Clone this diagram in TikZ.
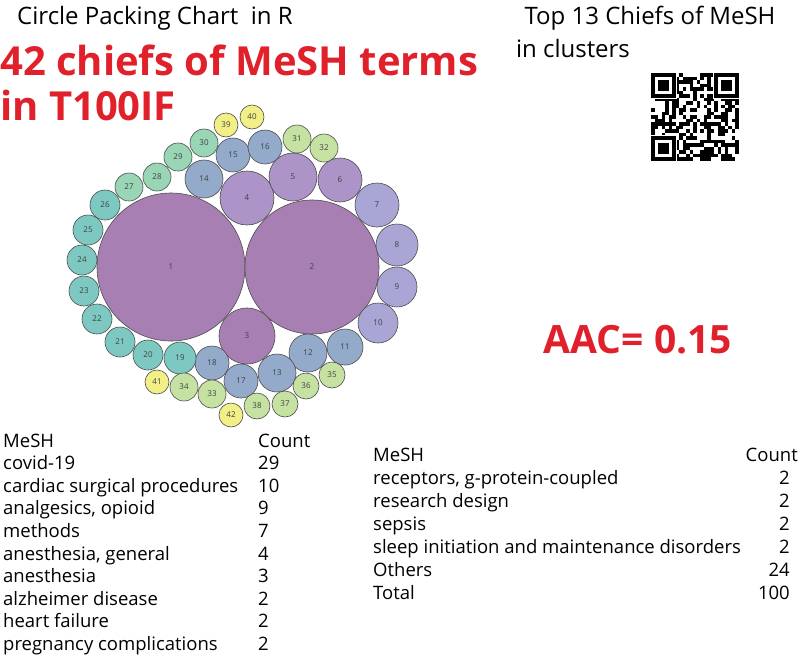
\documentclass[tikz,border=0pt]{standalone}
\usepackage{fontspec}
\setmainfont{Open Sans}
\definecolor{cA}{HTML}{A77FB3}
\definecolor{cB}{HTML}{AC93C8}
\definecolor{cC}{HTML}{A9A6D6}
\definecolor{cD}{HTML}{93AACB}
\definecolor{cE}{HTML}{7DC9C2}
\definecolor{cF}{HTML}{98D6B6}
\definecolor{cG}{HTML}{C6E2A2}
\definecolor{cH}{HTML}{F2EF86}
\definecolor{tred}{HTML}{E0202A}
\begin{document}
\begin{tikzpicture}[x=1pt,y=-1pt,
  bub/.style={circle,draw=black!70,line width=0.6pt,inner sep=0pt,font=\fontsize{8}{8}\selectfont,text=black!75},
  tabt/.style={anchor=base west,inner sep=0pt,font=\fontsize{18.5}{20}\selectfont},
  tabr/.style={anchor=base east,inner sep=0pt,font=\fontsize{18.5}{20}\selectfont},
  ttl/.style={inner sep=0pt,font=\fontsize{24}{28}\selectfont},
  red/.style={inner sep=0pt,text=tred,font=\fontsize{40}{44}\selectfont\bfseries}]
\useasboundingbox (0,0) rectangle (800,659);
\fill[white] (0,0) rectangle (800,659);
\foreach \n/\x/\y/\r/\c in {
1/171/267/74/cA,2/312/267/67/cA,3/247/336/28/cA,4/247/198/27/cB,5/293/177/24/cB,
6/340/180/22/cB,7/377/205/22/cC,8/397/245/21/cC,9/397/287/20/cC,10/378/323/20/cC,
11/345/347/18/cD,12/308/353/19/cD,13/277/373/19/cD,14/204/179/19/cD,15/233/155/17/cD,
16/265/147/17/cD,17/241/381/17/cD,18/212/363/17/cD,19/180/358/16/cE,20/148/355/15/cE,
21/120/342/15/cE,22/97/319/15/cE,23/84/291/15/cE,24/82/260/15/cE,25/88/230/15/cE,
26/105/205/15/cE,27/129/187/14/cF,28/157/177/14/cF,29/178/157/14/cF,30/204/143/14/cF,
31/297/139/14/cG,32/324/148/14/cG,33/212/394/14/cG,34/184/387/14/cG,35/332/375/13/cG,
36/306/386/13/cG,37/285/404/13/cG,38/257/406/13/cG,39/226/125/12/cH,40/252/117/12/cH,
41/157/382/12/cH,42/231/415/12/cH}
  \node[bub,fill=\c,minimum size=2*\r pt] (b\n) at (\x,\y) {\n};
\node[ttl] (t1) at (155,18) {Circle Packing Chart\ \ in R};
\node[red,anchor=west] (t2) at (0,60) {42 chiefs of MeSH terms};
\node[red,anchor=west] (t3) at (0,105) {in T100IF};
\node[ttl] (t4) at (650,18) {Top 13 Chiefs of MeSH};
\node[ttl] (t5) at (573,48) {in clusters};
\node[red,font=\fontsize{39}{44}\selectfont\bfseries] (aac) at (638,340) {AAC= 0.15};
\begin{scope}[shift={(651,73)}]
\pgfmathsetseed{7}
\foreach \i in {0,...,24} \foreach \j in {0,...,24}{
  \pgfmathparse{rnd<0.5?1:0}
  \ifnum\pgfmathresult=1 \fill[black] (\i*3.5,\j*3.5) rectangle ++(3.5,3.5);\fi}
\foreach \a/\b in {0/0,63/0,0/63}{
  \fill[white] (\a-1,\b-1) rectangle ++(26.5,26.5);
  \fill[black] (\a,\b) rectangle ++(24.5,24.5);
  \fill[white] (\a+3.5,\b+3.5) rectangle ++(17.5,17.5);
  \fill[black] (\a+7,\b+7) rectangle ++(10.5,10.5);}
\end{scope}
\node[tabt] (lh) at (3,447) {MeSH};
\node[tabt] (lc) at (258,447) {Count};
\foreach \t/\v [count=\k] in {covid-19/29,cardiac surgical procedures/10,{analgesics, opioid}/9,methods/7,{anesthesia, general}/4,anesthesia/3,alzheimer disease/2,heart failure/2,pregnancy complications/2}{
  \node[tabt] (l\k) at (3,447+\k*22.6) {\t};
  \node[tabt] (lv\k) at (258,447+\k*22.6) {\v};}
\node[tabt] (rh) at (373,461) {MeSH};
\node[tabr] (rc) at (798,461) {Count};
\foreach \t/\v [count=\k] in {{receptors, g-protein-coupled}/2,research design/2,sepsis/2,sleep initiation and maintenance disorders/2,Others/24,Total/100}{
  \node[tabt] (r\k) at (373,461+\k*23) {\t};
  \node[tabr] (rv\k) at (790,461+\k*23) {\v};}
\end{tikzpicture}
\end{document}
